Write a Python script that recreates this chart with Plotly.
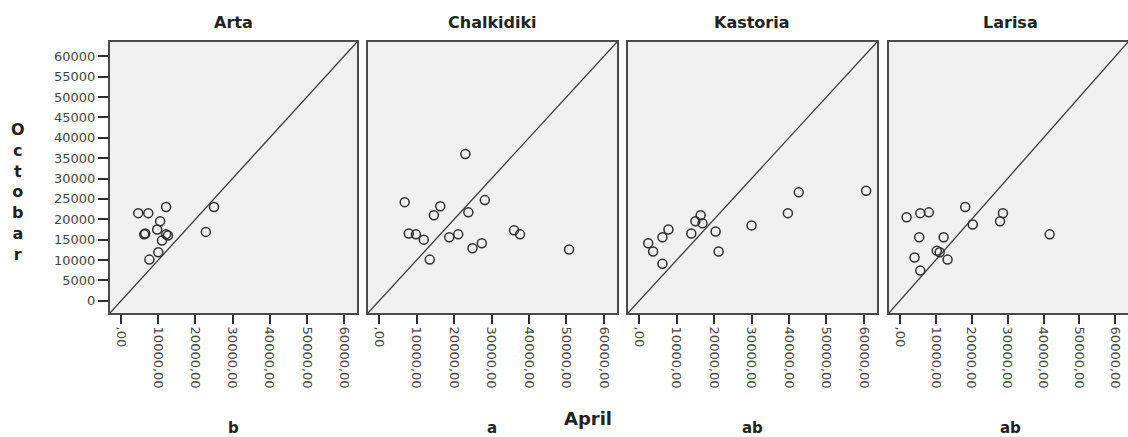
import plotly.graph_objects as go

# ---------------- data ----------------
panels = ["Arta", "Chalkidiki", "Kastoria", "Larisa"]
groups = ["b", "a", "ab", "ab"]

arta_april = [4600, 7300, 12100, 25000, 10500, 6200, 6500, 9700, 12100, 12600, 11000, 10000, 7600, 22800]
arta_oct = [21500, 21500, 23000, 23000, 19500, 16300, 16500, 17500, 16300, 16000, 14800, 11900, 10100, 16900]

chalk_april = [23000, 6800, 16300, 14600, 28200, 23800, 7900, 9800, 11900, 13500, 18700, 21100, 24900, 27400, 36000, 37600, 50700]
chalk_oct = [36000, 24200, 23200, 21000, 24700, 21700, 16500, 16300, 15000, 10100, 15600, 16300, 12900, 14100, 17300, 16300, 12600]

kast_april = [2400, 3700, 6200, 6200, 7800, 13900, 15000, 16400, 16900, 20400, 21200, 30000, 39700, 42600, 60600]
kast_oct = [14100, 12100, 9100, 15600, 17500, 16500, 19500, 21000, 19000, 17000, 12100, 18500, 21500, 26600, 27000]

lar_april = [1900, 5700, 8100, 18200, 20300, 28700, 27900, 5400, 12200, 4100, 5700, 10300, 11100, 13300, 41700]
lar_oct = [20500, 21500, 21700, 23000, 18700, 21500, 19500, 15600, 15600, 10600, 7400, 12300, 11900, 10100, 16300]

x_tickvals = [0, 10000, 20000, 30000, 40000, 50000, 60000]
x_ticktext = [",00", "10000,00", "20000,00", "30000,00", "40000,00", "50000,00", "60000,00"]
y_tickvals = [0, 5000, 10000, 15000, 20000, 25000, 30000, 35000, 40000, 45000, 50000, 55000, 60000]
y_ticktext = ["0", "5000", "10000", "15000", "20000", "25000", "30000", "35000", "40000", "45000", "50000", "55000", "60000"]

xs = [arta_april, chalk_april, kast_april, lar_april]
ys = [arta_oct, chalk_oct, kast_oct, lar_oct]

# ---------------- layout config ----------------
W, H = 1128, 437
AX_RANGE = [-3000, 63500]
x_domains_px = [(110, 357), (368, 617), (628, 877), (889, 1128)]
title_centers_px = [233, 492, 752, 1010]
y_domain = [1 - 313 / H, 1 - 42 / H]

FRAME = "#4a4a4a"
MARK = "#2e2e2e"
BG = "#f0f0f0"

fig = go.Figure()

for i in range(4):
    ax = "" if i == 0 else str(i + 1)
    xref, yref = "x" + ax, "y" + ax
    # diagonal reference line y = x (from axis range)
    fig.add_trace(go.Scatter(
        x=AX_RANGE, y=AX_RANGE, mode="lines", xaxis=xref, yaxis=yref,
        line=dict(color="#3c3c3c", width=1.3), hoverinfo="skip", showlegend=False))
    fig.add_trace(go.Scatter(
        x=xs[i], y=ys[i], mode="markers", xaxis=xref, yaxis=yref,
        marker=dict(symbol="circle-open", size=9, color=MARK, line=dict(width=1.5, color=MARK)),
        showlegend=False, name=panels[i]))

    l, r = x_domains_px[i]
    xa = dict(domain=[l / W, r / W], range=AX_RANGE, anchor=yref,
              tickvals=x_tickvals, ticktext=x_ticktext, tickangle=90,
              ticks="outside", ticklen=9, tickwidth=1.5, tickcolor=MARK,
              tickfont=dict(family="DejaVu Sans", size=13, color="#444"),
              showline=True, linecolor=FRAME, linewidth=2, mirror=True,
              showgrid=False, zeroline=False, fixedrange=True)
    ya = dict(domain=y_domain, range=AX_RANGE, anchor=xref,
              showline=True, linecolor=FRAME, linewidth=2, mirror=(i < 3),
              showgrid=False, zeroline=False, fixedrange=True)
    if i == 0:
        ya.update(tickvals=y_tickvals, ticktext=y_ticktext, ticks="outside",
                  ticklen=10, tickwidth=1.5, tickcolor=MARK,
                  tickfont=dict(family="DejaVu Sans", size=13, color="#444"))
    else:
        ya.update(showticklabels=False, ticks="")
    fig.update_layout(**{"xaxis" + ax: xa, "yaxis" + ax: ya})

    cx = title_centers_px[i] / W
    fig.add_annotation(text="<b>%s</b>" % panels[i], x=cx, y=1 - 23 / H, xref="paper", yref="paper",
                       xanchor="center", yanchor="middle", showarrow=False,
                       font=dict(family="DejaVu Sans", size=16, color="#222"))
    fig.add_annotation(text="<b>%s</b>" % groups[i], x=cx, y=1 - 428 / H, xref="paper", yref="paper",
                       xanchor="center", yanchor="middle", showarrow=False,
                       font=dict(family="DejaVu Sans", size=15, color="#222"))

fig.add_annotation(text="<b>April</b>", x=588 / W, y=1 - 418 / H, xref="paper", yref="paper",
                   xanchor="center", yanchor="middle", showarrow=False,
                   font=dict(family="DejaVu Sans", size=18, color="#222"))
fig.add_annotation(text="<b>" + "<br>".join("Octobar") + "</b>", x=18 / W, y=1 - 192 / H,
                   xref="paper", yref="paper", xanchor="center", yanchor="middle",
                   showarrow=False, align="center",
                   font=dict(family="DejaVu Sans", size=16, color="#222"))

fig.update_layout(width=W, height=H, margin=dict(l=0, r=0, t=0, b=0),
                  paper_bgcolor="white", plot_bgcolor=BG, autosize=False)

fig.write_html("out.html")
